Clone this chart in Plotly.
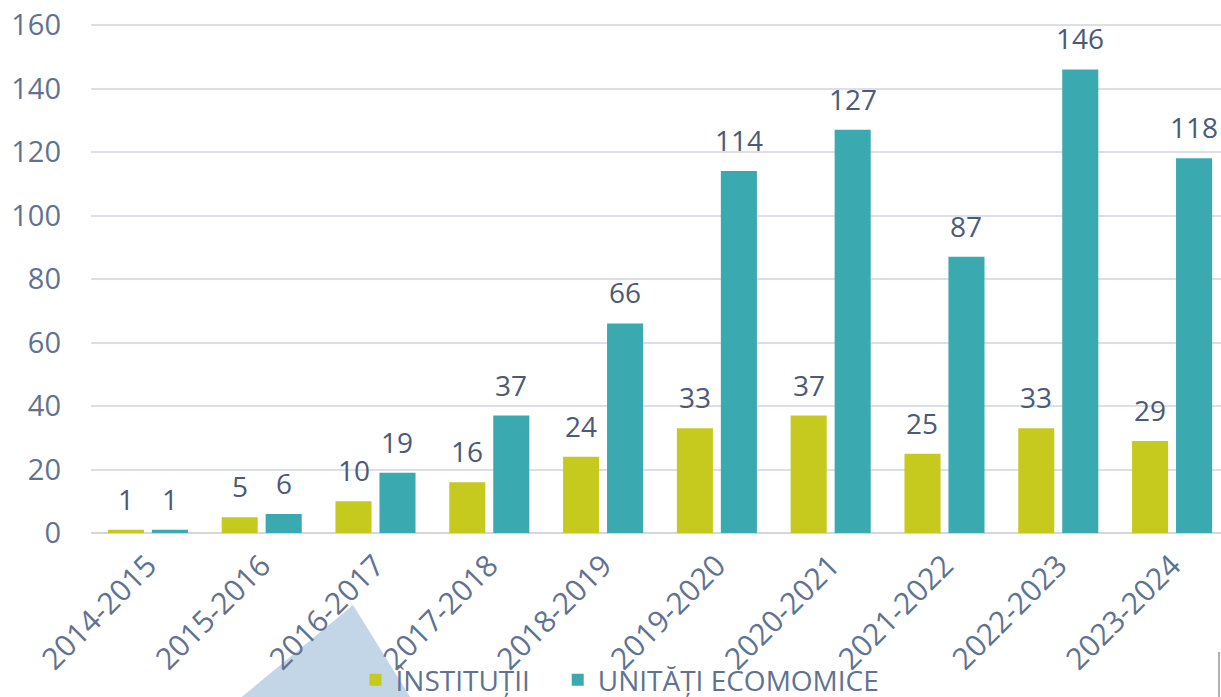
import plotly.graph_objects as go

categories = ["2014-2015", "2015-2016", "2016-2017", "2017-2018", "2018-2019",
              "2019-2020", "2020-2021", "2021-2022", "2022-2023", "2023-2024"]
institutii = [1, 5, 10, 16, 24, 33, 37, 25, 33, 29]
unitati = [1, 6, 19, 37, 66, 114, 127, 87, 146, 118]
series_names = ["ÎNSTITUȚII", "UNITĂȚI ECOMOMICE"]
y_ticks = [0, 20, 40, 60, 80, 100, 120, 140, 160]

FONT = "Open Sans"
AXIS_COL = "#5f7391"
LABEL_COL = "#4b5a76"
YELLOW = "#c6ca1e"
TEAL = "#3aaab0"

W, H = 1221, 697
ML, MR, MT, MB = 91, 0, 25 - 3, 697 - 533
Y_TOP = 160 + 3 / (508 / 160)   # keep 160 gridline 3px inside the frame

fig = go.Figure()
fig.add_trace(go.Bar(x=categories, y=institutii,
                     name=series_names[0] + "\u00a0\u00a0\u00a0",
                     marker=dict(color=YELLOW, line=dict(width=0))))
fig.add_trace(go.Bar(x=categories, y=unitati, name=series_names[1],
                     marker=dict(color=TEAL, line=dict(width=0))))

# data labels above each bar
cat_px = 113.78
half = cat_px * (1 - 0.227) / 4
for vals, sh in ((institutii, -half), (unitati, half)):
    for c, v in zip(categories, vals):
        fig.add_annotation(x=c, y=v, text=str(v), showarrow=False,
                           xref="x", yref="y", yanchor="bottom",
                           xshift=sh, yshift=10,
                           font=dict(family=FONT, size=28, color=LABEL_COL))

pw = W - ML - MR
ph = H - MT - MB
def px(x):  # page pixel -> paper
    return (x - ML) / pw
def py(y):
    return (H - MB - y) / ph

# decorative light-blue triangle behind labels
fig.add_shape(type="path", xref="paper", yref="paper", layer="below",
              path=f"M {px(238)} {py(700)} L {px(353)} {py(605)} L {px(412)} {py(700)} Z",
              fillcolor="#bcd2e6", line=dict(width=0), opacity=0.9)
# small grey mark at right bottom
fig.add_shape(type="line", xref="paper", yref="paper",
              x0=px(1219), x1=px(1219), y0=py(652), y1=py(700),
              line=dict(color="#b0b0b0", width=2))

fig.update_layout(
    width=W, height=H,
    margin=dict(l=ML, r=MR, t=MT, b=MB, autoexpand=False),
    paper_bgcolor="white", plot_bgcolor="white",
    barmode="group", bargap=0.227, bargroupgap=0.18,
    font=dict(family=FONT, color=AXIS_COL),
    showlegend=True,
    legend=dict(orientation="h", x=px(620), xanchor="center",
                y=py(680), yanchor="middle",
                font=dict(family=FONT, size=28, color=AXIS_COL),
                bgcolor="rgba(0,0,0,0)", itemsizing="constant"),
)
fig.update_xaxes(
    type="category", range=[-0.5, 9.43], tickangle=-45,
    tickfont=dict(family=FONT, size=30, color=AXIS_COL),
    showgrid=False, showline=False, zeroline=False, ticks="",
    automargin=False, ticklabelstandoff=8,
)
fig.update_yaxes(
    range=[0, Y_TOP], tickvals=y_ticks,
    tickfont=dict(family=FONT, size=29, color=AXIS_COL),
    showgrid=True, gridcolor="#dcdfe7", gridwidth=2,
    zeroline=True, zerolinecolor="#d3d6de", zerolinewidth=2,
    showline=False, ticks="", automargin=False, ticklabelstandoff=29,
    ticklabeloverflow="allow",
)

fig.write_html("out.html",
               config={"displayModeBar": False},
               post_script="document.body.style.margin='0';"
                           "document.body.style.overflow='hidden';")
